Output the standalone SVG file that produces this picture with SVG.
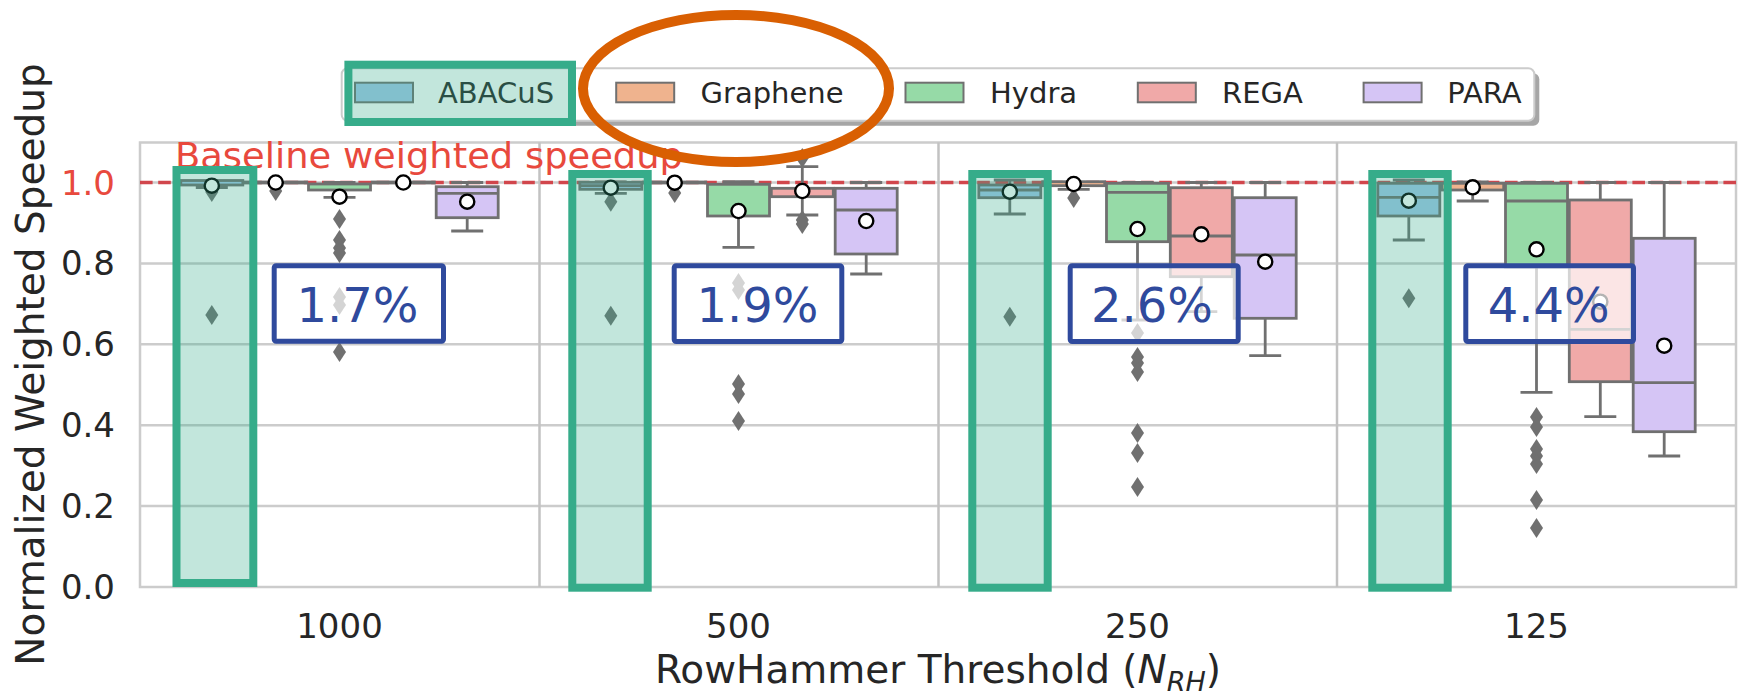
<svg xmlns="http://www.w3.org/2000/svg" width="1738" height="694" viewBox="0 0 1738 694">
<style>
.grid{stroke:#CCCCCC;stroke-width:2.5;fill:none}
.div{stroke:#C2C2C2;stroke-width:2.5}
.bx{stroke:#707070;stroke-width:2.8}
.ln{stroke:#707070;stroke-width:2.8;fill:none}
.a{fill:#A4C9EA}.g{fill:#EFB38E}.h{fill:#96DAA7}.r{fill:#F0A9A8}.p{fill:#D5C5F5}
.mean{fill:#FFFFFF;stroke:#000000;stroke-width:2.4}
.out{fill:#707070}
.hl{fill:#36AC8A;fill-opacity:0.3;stroke:#36AC8A;stroke-width:8}
.lab{fill:#FFFFFF;fill-opacity:0.7;stroke:#2F4A9D;stroke-width:5}
.labt{font-family:'DejaVu Sans',sans-serif;font-size:48px;fill:#2F4A9D;text-anchor:middle}
.tick{font-family:'DejaVu Sans',sans-serif;font-size:34px;fill:#262626}
.yt{text-anchor:end}
.xt{text-anchor:middle}
.leg{font-family:'DejaVu Sans',sans-serif;font-size:29px;fill:#262626}
.lp{stroke:#707070;stroke-width:2}
</style>
<defs>
<path id="d" class="out" d="M0,-10L6.5,0L0,10L-6.5,0Z"/>
<circle id="m" class="mean" r="7.1"/>
</defs>
<rect width="1738" height="694" fill="#FFFFFF"/>

<g id="axes">
<path class="grid" d="M140,506.1H1736M140,425.2H1736M140,344.3H1736M140,263.4H1736M140,182.5H1736"/>
<rect class="grid" x="140" y="142.5" width="1596" height="444.5"/>
<path class="div" d="M539.5,142.5V587M938.5,142.5V587M1337,142.5V587"/>
<line x1="140" y1="182.5" x2="1736" y2="182.5" stroke="#D1464C" stroke-width="3.3" stroke-dasharray="12.6 5.6"/>
<text x="175" y="168" font-family="'DejaVu Sans',sans-serif" font-size="36" fill="#E8493D" textLength="508" lengthAdjust="spacingAndGlyphs">Baseline weighted speedup</text>
<g class="tick yt">
<text x="115" y="599">0.0</text>
<text x="115" y="518">0.2</text>
<text x="115" y="437">0.4</text>
<text x="115" y="356">0.6</text>
<text x="115" y="275">0.8</text>
<text x="115" y="195" fill="#E8493D">1.0</text>
</g>
<g class="tick xt">
<text x="339.5" y="638">1000</text>
<text x="738.5" y="638">500</text>
<text x="1137.5" y="638">250</text>
<text x="1536.5" y="638">125</text>
</g>
<text x="938" y="682.5" font-family="'DejaVu Sans',sans-serif" font-size="39" fill="#262626" text-anchor="middle">RowHammer Threshold (<tspan font-style="italic">N</tspan><tspan font-style="italic" font-size="27" dy="8">RH</tspan><tspan dy="-8">)</tspan></text>
<text transform="translate(44,364.5) rotate(-90)" font-family="'DejaVu Sans',sans-serif" font-size="39" fill="#262626" text-anchor="middle">Normalized Weighted Speedup</text>
</g>

<g id="group-1000">
<g id="b1000-abacus"><path class="ln" d="M211.8,185V187.5M195.8,187.5H227.8"/><rect class="bx a" x="180.8" y="180.5" width="62" height="4.5"/><use href="#d" x="211.8" y="192"/><use href="#d" x="211.8" y="315"/><use href="#m" x="211.8" y="185.7"/></g>
<g id="b1000-graphene"><rect class="bx g" x="244.7" y="182" width="62" height="1"/><use href="#d" x="275.7" y="191"/><use href="#m" x="275.7" y="182.5"/></g>
<g id="b1000-hydra"><path class="ln" d="M339.5,184V182.5M323.5,182.5H355.5M339.5,190V197.3M323.5,197.3H355.5"/><rect class="bx h" x="308.5" y="184" width="62" height="6"/><use href="#d" x="339.5" y="219"/><use href="#d" x="339.5" y="240"/><use href="#d" x="339.5" y="248"/><use href="#d" x="339.5" y="253"/><use href="#d" x="339.5" y="297"/><use href="#d" x="339.5" y="305"/><use href="#d" x="339.5" y="352"/><use href="#m" x="339.5" y="196.7"/></g>
<g id="b1000-rega"><rect class="bx r" x="372.3" y="182" width="62" height="1"/><use href="#m" x="403.3" y="182.5"/></g>
<g id="b1000-para"><path class="ln" d="M467.2,186.7V182.5M451.2,182.5H483.2M467.2,217.7V231M451.2,231H483.2"/><rect class="bx p" x="436.2" y="186.7" width="62" height="31"/><path class="ln" d="M436.2,193.3H498.2"/><use href="#m" x="467.2" y="201.7"/></g>
</g>

<g id="group-500">
<g id="b500-abacus"><path class="ln" d="M610.8,182.3V182M594.8,182H626.8M610.8,189.3V193.3M594.8,193.3H626.8"/><rect class="bx a" x="579.8" y="182.3" width="62" height="7"/><path class="ln" d="M579.8,185.7H641.8"/><use href="#d" x="610.8" y="201.7"/><use href="#d" x="610.8" y="315.7"/><use href="#m" x="610.8" y="187.7"/></g>
<g id="b500-graphene"><rect class="bx g" x="643.7" y="182" width="62" height="1"/><use href="#d" x="674.7" y="193"/><use href="#m" x="674.7" y="182.7"/></g>
<g id="b500-hydra"><path class="ln" d="M738.5,184.3V181.7M722.5,181.7H754.5M738.5,216V247.3M722.5,247.3H754.5"/><rect class="bx h" x="707.5" y="184.3" width="62" height="31.7"/><use href="#d" x="738.5" y="283"/><use href="#d" x="738.5" y="290"/><use href="#d" x="738.5" y="384"/><use href="#d" x="738.5" y="394"/><use href="#d" x="738.5" y="421"/><use href="#m" x="738.5" y="211"/></g>
<g id="b500-rega"><path class="ln" d="M802.3,188.3V166.7M786.3,166.7H818.3M802.3,196.7V215M786.3,215H818.3"/><rect class="bx r" x="771.3" y="188.3" width="62" height="8.4"/><use href="#d" x="802.3" y="158"/><use href="#d" x="802.3" y="220"/><use href="#d" x="802.3" y="224"/><use href="#m" x="802.3" y="191"/></g>
<g id="b500-para"><path class="ln" d="M866.2,188.3V182.5M850.2,182.5H882.2M866.2,254V274M850.2,274H882.2"/><rect class="bx p" x="835.2" y="188.3" width="62" height="65.7"/><path class="ln" d="M835.2,210H897.2"/><use href="#m" x="866.2" y="221"/></g>
</g>

<g id="group-250">
<g id="b250-abacus"><path class="ln" d="M1009.8,185V180M993.8,180H1025.8M1009.8,197.7V214M993.8,214H1025.8"/><rect class="bx a" x="978.8" y="185" width="62" height="12.7"/><path class="ln" d="M978.8,190H1040.8"/><use href="#d" x="1009.8" y="316.7"/><use href="#m" x="1009.8" y="191.7"/></g>
<g id="b250-graphene"><path class="ln" d="M1073.7,185.7V189.3M1057.7,189.3H1089.7"/><rect class="bx g" x="1042.7" y="181.7" width="62" height="4"/><use href="#d" x="1073.7" y="198"/><use href="#m" x="1073.7" y="184"/></g>
<g id="b250-hydra"><path class="ln" d="M1137.5,183.3V182.5M1121.5,182.5H1153.5M1137.5,241.7V320M1121.5,320H1153.5"/><rect class="bx h" x="1106.5" y="183.3" width="62" height="58.4"/><path class="ln" d="M1106.5,192.3H1168.5"/><use href="#d" x="1137.5" y="333"/><use href="#d" x="1137.5" y="357"/><use href="#d" x="1137.5" y="363"/><use href="#d" x="1137.5" y="372"/><use href="#d" x="1137.5" y="433"/><use href="#d" x="1137.5" y="453"/><use href="#d" x="1137.5" y="487"/><use href="#m" x="1137.5" y="229"/></g>
<g id="b250-rega"><path class="ln" d="M1201.3,187.7V182.5M1185.3,182.5H1217.3M1201.3,276.7V311.7M1185.3,311.7H1217.3"/><rect class="bx r" x="1170.3" y="187.7" width="62" height="89"/><path class="ln" d="M1170.3,236H1232.3"/><use href="#m" x="1201.3" y="234.3"/></g>
<g id="b250-para"><path class="ln" d="M1265.2,197.7V182.5M1249.2,182.5H1281.2M1265.2,318.3V355.7M1249.2,355.7H1281.2"/><rect class="bx p" x="1234.2" y="197.7" width="62" height="120.6"/><path class="ln" d="M1234.2,255H1296.2"/><use href="#m" x="1265.2" y="261.7"/></g>
</g>

<g id="group-125">
<g id="b125-abacus"><path class="ln" d="M1408.8,183.3V180M1392.8,180H1424.8M1408.8,216V240M1392.8,240H1424.8"/><rect class="bx a" x="1377.8" y="183.3" width="62" height="32.7"/><path class="ln" d="M1377.8,197.3H1439.8"/><use href="#d" x="1408.8" y="298.3"/><use href="#m" x="1408.8" y="200.7"/></g>
<g id="b125-graphene"><path class="ln" d="M1472.7,183.3V182M1456.7,182H1488.7M1472.7,190V201M1456.7,201H1488.7"/><rect class="bx g" x="1441.7" y="183.3" width="62" height="6.7"/><use href="#m" x="1472.7" y="187.3"/></g>
<g id="b125-hydra"><path class="ln" d="M1536.5,183.3V182.5M1520.5,182.5H1552.5M1536.5,267V392.3M1520.5,392.3H1552.5"/><rect class="bx h" x="1505.5" y="183.3" width="62" height="83.7"/><path class="ln" d="M1505.5,201H1567.5"/><use href="#d" x="1536.5" y="417"/><use href="#d" x="1536.5" y="427"/><use href="#d" x="1536.5" y="449"/><use href="#d" x="1536.5" y="456"/><use href="#d" x="1536.5" y="464"/><use href="#d" x="1536.5" y="500"/><use href="#d" x="1536.5" y="528"/><use href="#m" x="1536.5" y="249.3"/></g>
<g id="b125-rega"><path class="ln" d="M1600.3,200V182.5M1584.3,182.5H1616.3M1600.3,381.7V416.7M1584.3,416.7H1616.3"/><rect class="bx r" x="1569.3" y="200" width="62" height="181.7"/><path class="ln" d="M1569.3,329.3H1631.3"/><use href="#m" x="1600.3" y="301.7"/></g>
<g id="b125-para"><path class="ln" d="M1664.2,238.3V182.5M1648.2,182.5H1680.2M1664.2,431.7V456M1648.2,456H1680.2"/><rect class="bx p" x="1633.2" y="238.3" width="62" height="193.4"/><path class="ln" d="M1633.2,382.7H1695.2"/><use href="#m" x="1664.2" y="345.7"/></g>
</g>

<g id="legend">
<rect x="346.7" y="73.3" width="1192.6" height="52.4" rx="6" fill="#A6A6A6"/>
<rect x="341.7" y="68.3" width="1192.6" height="52.4" rx="6" fill="#FFFFFF" stroke="#CCCCCC" stroke-width="2"/>
<rect class="lp a" x="355" y="82.7" width="58" height="19.6"/><text class="leg" x="438" y="102.7">ABACuS</text>
<rect class="lp g" x="616.2" y="82.7" width="58" height="19.6"/><text class="leg" x="700.5" y="102.7">Graphene</text>
<rect class="lp h" x="905.5" y="82.7" width="58" height="19.6"/><text class="leg" x="990" y="102.7">Hydra</text>
<rect class="lp r" x="1137.8" y="82.7" width="58" height="19.6"/><text class="leg" x="1222" y="102.7">REGA</text>
<rect class="lp p" x="1363.6" y="82.7" width="58" height="19.6"/><text class="leg" x="1447.3" y="102.7">PARA</text>
</g>

<g id="highlights">
<rect class="hl" x="348.4" y="64.7" width="223.6" height="57.3"/>
<rect class="hl" x="176.5" y="170" width="76.8" height="413"/>
<rect class="hl" x="572.3" y="174" width="75.4" height="413.7"/>
<rect class="hl" x="972.3" y="174" width="75.4" height="413.7"/>
<rect class="hl" x="1372.3" y="174" width="75.4" height="413.7"/>
</g>

<g id="labels">
<g id="lab-1000"><rect class="lab" x="274.2" y="265.8" width="169.3" height="75.5" rx="2"/><text class="labt" x="357.5" y="321.7">1.7%</text></g>
<g id="lab-500"><rect class="lab" x="674.2" y="265.8" width="167.6" height="75.7" rx="2"/><text class="labt" x="757.5" y="321.7">1.9%</text></g>
<g id="lab-250"><rect class="lab" x="1070.2" y="265.8" width="168" height="75.7" rx="2"/><text class="labt" x="1152" y="321.7">2.6%</text></g>
<g id="lab-125"><rect class="lab" x="1465.8" y="265.8" width="167.7" height="75.7" rx="2"/><text class="labt" x="1548.7" y="321.7">4.4%</text></g>
</g>

<g id="graphene-circle">
<ellipse cx="736" cy="88.5" rx="153" ry="73.5" fill="none" stroke="#D95F02" stroke-width="10"/>
</g>
</svg>
